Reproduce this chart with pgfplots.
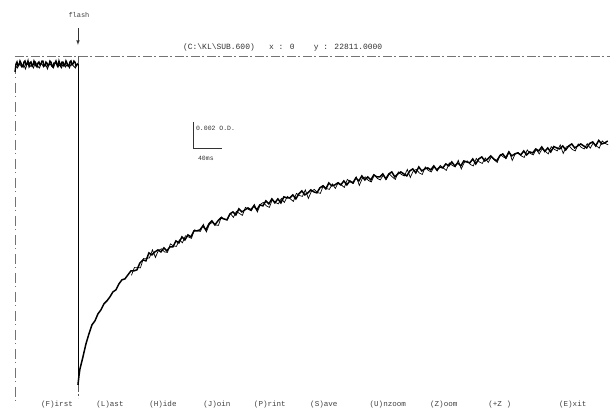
\documentclass[border=0pt]{standalone}
\usepackage{fontspec}
\setmainfont{Liberation Mono}
\usepackage{pgfplots}
\pgfplotsset{compat=1.18}
\begin{document}
\begin{tikzpicture}
\begin{axis}[
  scale only axis, width=610bp, height=411bp,
  xmin=0, xmax=610, ymin=0, ymax=411, y dir=reverse,
  hide axis, clip=false]
% frame / marker lines
\addplot[black!55, line width=0.6bp, dash pattern=on 9bp off 2bp on 2bp off 3bp] coordinates {(15,56) (610,56)};
\addplot[black!55, line width=0.6bp, dash pattern=on 10bp off 3bp on 1bp off 5bp] coordinates {(15,64) (15,404)};
\addplot[black!65, line width=0.6bp, dash pattern=on 12bp off 2bp on 2bp off 2bp] coordinates {(78,56) (78,398)};
% baseline before the flash
\addplot[black, line width=1.4bp] coordinates {
(15,72) (16,64) (17,62) (18,66) (19,65) (20,61) (21,63) (22,66) (23,67) (24,62) (25,61) (26,65) (27,64) (28,61)
(29,66) (30,63) (31,62) (32,66) (33,65) (34,61) (35,63) (36,66) (37,67) (38,63) (39,62) (40,65) (41,64) (42,61)
(43,61) (44,66) (45,66) (46,62) (47,63) (48,66) (49,65) (50,61) (51,62) (52,66) (53,67) (54,63) (55,63) (56,61)
(57,64) (58,66) (59,61) (60,64) (61,66) (62,62) (63,62) (64,66) (65,65) (66,61) (67,63) (68,66) (69,66) (70,62)
(71,61) (72,65) (73,64) (74,61) (75,62) (76,66) (77,65) (78,64)
};
\addplot[black, line width=0.8bp] coordinates {
(15.5,66) (17.5,68) (19.5,63) (21.5,67) (23.5,64) (25.5,69) (27.5,63) (29.5,67) (31.5,65) (33.5,68) (35.5,62)
(37.5,66) (39.5,68) (41.5,63) (43.5,67) (45.5,64) (47.5,69) (49.5,63) (51.5,66) (53.5,68) (55.5,62) (57.5,67)
(59.5,65) (61.5,68) (63.5,63) (65.5,67) (67.5,64) (69.5,68) (71.5,63) (73.5,66) (75.5,68) (77.5,63)
};
% drop at the flash
\addplot[black, line width=0.8bp] coordinates {(78,64) (78,385)};
% recovery
\addplot[black, line width=1.5bp] coordinates {
(78,385) (79,376) (80,369) (83,357) (86,344) (89,334) (92,325) (95,321) (98,314) (101,310) (104,304) (107,301)
(110,297) (113,292) (116,290) (119,284) (122,280) (125,279) (128,275) (131,271) (134,271) (137,270) (140,263)
(143,260) (146,261) (149,253) (152,255) (155,252) (158,250) (161,252) (164,248) (167,251) (170,247) (173,247)
(176,241) (179,243) (182,237) (185,240) (188,235) (191,237) (194,231) (197,231) (200,230) (203,226) (206,230)
(209,224) (212,221) (215,225) (218,221) (221,218) (224,219) (227,220) (230,214) (233,212) (236,215) (239,209)
(242,212) (245,210) (248,208) (251,210) (254,206) (257,210) (260,205) (263,206) (266,201) (269,204) (272,199)
(275,203) (278,199) (281,203) (284,197) (287,198) (290,198) (293,195) (296,199) (299,194) (302,191) (305,195)
(308,193) (311,190) (314,192) (317,193) (320,188) (323,186) (326,189) (329,183) (332,186) (335,185) (338,183)
(341,185) (344,181) (347,185) (350,181) (353,183) (356,178) (359,181) (362,176) (365,180) (368,177) (371,180)
(374,175) (377,177) (380,177) (383,174) (386,179) (389,174) (392,172) (395,177) (398,174) (401,172) (404,174)
(407,176) (410,171) (413,169) (416,173) (419,167) (422,171) (425,169) (428,168) (431,170) (434,166) (437,170)
(440,167) (443,168) (446,164) (449,166) (452,162) (455,166) (458,163) (461,166) (464,161) (467,162) (470,163)
(473,159) (476,164) (479,159) (482,157) (485,161) (488,159) (491,156) (494,159) (497,161) (500,156) (503,154)
(506,158) (509,152) (512,156) (515,154) (518,153) (521,155) (524,151) (527,155) (530,152) (533,153) (536,149)
(539,151) (542,147) (545,151.5) (548,148) (551,152) (554,146.6) (557,148) (560,149) (563,146) (566,150) (569,146)
(572,144) (575,148) (578,146) (581,144) (584,146) (587,148) (590,143.5) (593,142) (596,146) (599,140.5) (602,144)
(605,143) (608,141)
};
\addplot[black, line width=0.7bp] coordinates {
(131.5,275.5) (134.5,267.5) (137.5,267.5) (140.5,268) (143.5,258.5) (146.5,258.5) (149.5,258) (152.5,250)
(155.5,257.5) (158.5,250.5) (161.5,249) (164.5,252) (167.5,252.5) (170.5,244) (173.5,246) (176.5,246.5)
(179.5,240) (182.5,243) (185.5,236) (188.5,237) (191.5,238.5) (194.5,230) (197.5,231) (200.5,231.5)
(203.5,224.5) (206.5,232) (209.5,224.5) (212.5,222.5) (215.5,225) (218.5,225.5) (221.5,217) (224.5,219.5)
(227.5,220) (230.5,213.5) (233.5,217.5) (236.5,211.5) (239.5,213.5) (242.5,215.5) (245.5,207.5) (248.5,209.5)
(251.5,211) (254.5,204.5) (257.5,212) (260.5,204.5) (263.5,202.5) (266.5,206) (269.5,207.5) (272.5,199.5)
(275.5,202.5) (278.5,204) (281.5,198.5) (284.5,202.5) (287.5,196.5) (290.5,199) (293.5,201.5) (296.5,193.5)
(299.5,195.5) (302.5,196.5) (305.5,190) (308.5,198.5) (311.5,191.5) (314.5,189.5) (317.5,192.5) (320.5,193.5)
(323.5,185.5) (326.5,188.5) (329.5,189.5) (332.5,184) (335.5,188.5) (338.5,182.5) (341.5,185) (344.5,187.5)
(347.5,179.5) (350.5,182) (353.5,183.5) (356.5,177) (359.5,185.5) (362.5,178.5) (365.5,177) (368.5,180.5)
(371.5,182) (374.5,175) (377.5,178.5) (380.5,180) (383.5,175) (386.5,179.5) (389.5,174) (392.5,177)
(395.5,179.5) (398.5,172) (401.5,174.5) (404.5,176) (407.5,169.5) (410.5,177.5) (413.5,171) (416.5,169.5)
(419.5,173) (422.5,174.5) (425.5,167) (428.5,170.5) (431.5,172) (434.5,166.5) (437.5,171) (440.5,165.5)
(443.5,168) (446.5,170.5) (449.5,163) (452.5,165.5) (455.5,167) (458.5,160.5) (461.5,169) (464.5,162.5)
(467.5,161) (470.5,164.5) (473.5,166) (476.5,158.5) (479.5,162) (482.5,163.5) (485.5,158) (488.5,162.5)
(491.5,157) (494.5,160) (497.5,162.5) (500.5,154.5) (503.5,157) (506.5,158.5) (509.5,152) (512.5,160.5)
(515.5,154) (518.5,152.5) (521.5,156) (524.5,157.5) (527.5,150) (530.5,153.5) (533.5,155) (536.5,149.5)
(539.5,154) (542.5,148.75) (545.5,151.25) (548.5,154) (551.5,146.8) (554.5,149.3) (557.5,151) (560.5,145)
(563.5,153.5) (566.5,147) (569.5,146) (572.5,149.5) (575.5,151) (578.5,144) (581.5,147.5) (584.5,149)
(587.5,143.75) (590.5,148.25) (593.5,143) (596.5,145.75) (599.5,148.25) (602.5,141) (605.5,143.5) (608.5,145)
};
% scale bar
\draw[black!80, line width=0.7bp] (axis cs:193,122) -- (axis cs:193,148) -- (axis cs:222,148);
\node[anchor=west, font=\fontsize{6.5}{7}\selectfont, text=black!80, inner sep=0pt] at (axis cs:196,128) {0.002 O.D.};
\node[anchor=west, font=\fontsize{6.5}{7}\selectfont, text=black!80, inner sep=0pt] at (axis cs:198,158) {40ms};
% flash marker
\node[font=\fontsize{7}{8}\selectfont, text=black!75, inner sep=0pt] at (axis cs:79,15) {flash};
\draw[black!80, line width=0.6bp, -{latex}] (axis cs:78,28) -- (axis cs:78,45);
% header
\node[anchor=west, font=\fontsize{8}{9}\selectfont, text=black!80, inner sep=0pt] at (axis cs:183,47)
  {(C:\textbackslash KL\textbackslash SUB.600)\ \ \ x : 0\ \ \ \ y : 22811.0000};
% menu
\begin{scope}[every node/.style={font=\fontsize{7.6}{8}\selectfont, text=black!75, inner sep=0pt}]
\node at (axis cs:57,405) {(F)irst};
\node at (axis cs:110,405) {(L)ast};
\node at (axis cs:163,405) {(H)ide};
\node at (axis cs:217,405) {(J)oin};
\node at (axis cs:270,405) {(P)rint};
\node at (axis cs:324,405) {(S)ave};
\node at (axis cs:388,405) {(U)nzoom};
\node at (axis cs:444,405) {(Z)oom};
\node at (axis cs:500,405) {(+Z )};
\node at (axis cs:573,405) {(E)xit};
\end{scope}
\path (axis cs:0,0) rectangle (axis cs:610,411);
\end{axis}
\end{tikzpicture}
\end{document}
